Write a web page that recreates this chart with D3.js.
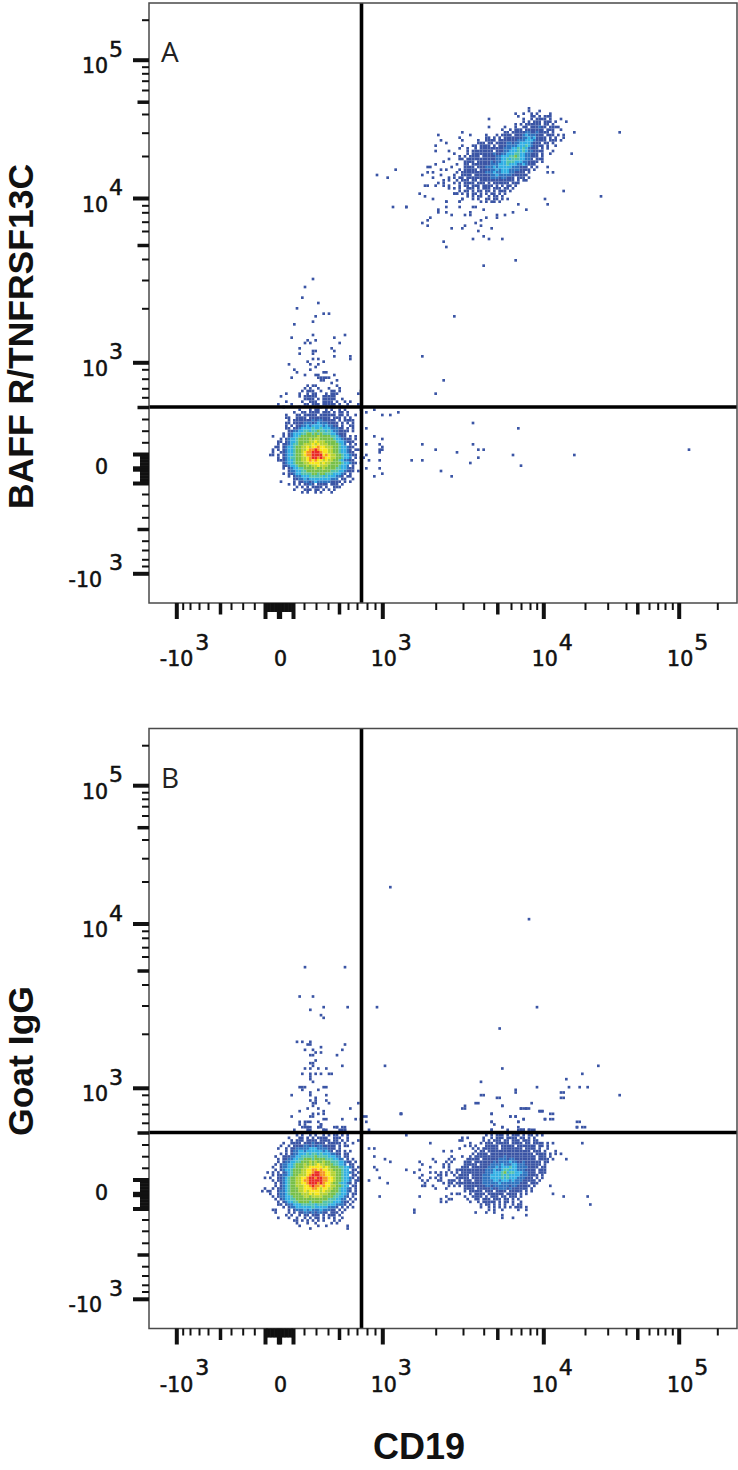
<!DOCTYPE html>
<html><head><meta charset="utf-8">
<script src="https://cdn.jsdelivr.net/npm/d3@7"></script>
<style>html,body{margin:0;padding:0;background:#fff}svg{display:block}</style>
</head><body>
<svg id="c" width="738" height="1470"></svg>
<script>
// ---- density cells: 1 blue ... 9 red, "." empty ----
const aNegativeRows = [
"................1...1.11..1.1..1.1.....1",
"..............1..11.1111.111.1.11.1.....",
"...........1...11.11111.111111.11.1..1..",
"...........11..1111.11111111.111.1.1....",
"............1.1111111212211111.1.1111...",
"...........11.11112221232221111.1.1.1...",
"...........1.1.1122323333232211.1..11...",
"...........11.1123333433433322211.1.1...",
"............11223344344544343221111.1...",
"..........1.1233344554545444332111......",
"......1...1.1233455555565555443211.1.1..",
".........1.1233455556566555554332111.1..",
"........11.12334555566766655554332111...",
"........1.112344556667676665555432.1.1..",
".......11.123345566767787766655433211...",
"......1.1.12334556678898777665543321.11.",
"......1..1123345567889998776655433211...",
".....11.1.1233455678899997876655433211..",
"........1.12344556678998987766554332.1.1",
"........11123345566787877676655432211...",
"..........1233455566777767665555433211.1",
"..........1123345556566766655554332.1...",
"..........1.1233445555655655554433211...",
"............1223344555555555444332111.1.",
"..........1.1123344445545544433321.1....",
"............1.1223334444434333221.11....",
"..............11223233333333222.11..1...",
".........1....1.1122123222221111.1.1....",
"............1.1.1.1121.1111.111.1.......",
"...............1.1.1.1111.1..111........",
"..............1...111.11.1.1.1..........",
".................1.1..1.1...1..........."
];
const aPositiveRows = [
"",
"",
"",
"................................................1",
"................................................1...1",
"...........................................1..1..1.1....1",
"............................................1....11.1.111",
".................................1............1..1.1111.1...1",
"..............................................1.1.111.111.1...1",
"...........................................1.1.111111.11.1",
".................................1.....1...1..11.111211.1111",
"......................................1..1.111.1111111.111..1",
".......................1...............11.11111221121111.1.......1................1",
"..............1...........1.....1...1.1111.11123222111.111.1.1",
"......................1.........11.1.1.1111111223231111.1.1..1",
"...............1.......1.....1..1111.111111122233321111.111.1",
".................1...........111.11.11112212233332111.11.1",
".............1.........1...11.1111.1.11122223334321111.1..1",
"......................1..1..1.1111111112223343432111.1.1",
".............1....1......1.11111111.111223334343221111...1",
"....................1....1.1111111121122333443322111.1..1.......1",
"......................1.1.1111.111112233344543322111.1",
"..................1...11.1111111111122334344433221.111",
"................1.......1111.11111212233444333221111.1",
".............1.......1..11.111111122233343332232111",
"..........11.......1....1111.1112223233333222111.1.1...1",
"...............1.1....1.11111.1111223233322221111.1",
"..........1.1........1.111111111222322333221111.1......1.1",
"........1......1....1..1111.11111122322222111111",
"............1.....1.1.11.111111111222122111.111.1",
"................1.1..1.111.11.1111111111111.1.11",
"..............1.1...1.1.1111.111.1.111111.111",
"..........1..1..1.1...1.11.111.1111.1.1.11.1",
"..................1.1.1..111.1.111.111.11.1",
"......................1.11.1.11.11.1.111.1",
"....................11.1.1.11.1.1.11.1.1",
".........................1.1.11..1.11.1",
".......................1...1.1..11.11.1.1",
".................1....1.......1.1.11.1"
];
const bNegativeRows = [
"",
"...............1.1.....1",
"..................11..1......1.11",
"...................1....1.....1.1",
"",
"..............1.1..1.1..1.1.11.1.1",
"...........1...11.1.1.1111..111..1",
"............1.111.1111.1111.11.1.1...1",
".........1..1111.11121111.11111.1..1",
"........1..1.1111221212211111.1.11",
".......1..1.11222223332222111.1",
"..........1.1223323333332321.11.1.1",
"........1.1.1223334344343332211.11",
"......1..1112233444445444433322.11",
".......1.11223344555455554443322.1.1",
".......1.12233445556565565544433211.1",
"......1.1223345556565676655544332.11",
".....1..1223345556677777676555443321.1",
"......1.12334555667788787766555433.11",
"...1.1.1.123455566778998877665543321.1",
".....1.112234556667899988776655433.11",
"..1.1..11234556677899899887765543321.1",
".....1.1123455667889999988776554332.11",
"......1.123455667789998987765543321.1",
"......1.12345566677898878776655433.11",
"..1..1.1123455566777887677665543321.1",
".1.11..1223455566767777676655543321.1",
"....1..122345555666767766655544332.11",
".....1.122334555566566665555443321.1",
"......1.1233445555555555554443322.1.1",
".......1.1233445555455554444333211.1",
".......11.12233344444344443332221.1",
".........1.1223333334333332221.1.1.1",
".....11....1.1222323222322211.1.1",
"......1....1.1.11221212211.111.1",
"..........1.1..1.11.111.1.111.1",
".......1...1..1..1.1.11.1.1.1..1",
".............11.1.1.1.1.1...1.1",
"..............1...1..1.....1.1",
"...............1......1..1.......1",
"...................1.............1"
];
const bPositiveRows = [
"","","","","","","","","","","","","","","","",
"................................1.1.111.1.111.1.11.1.1",
".......................1.1.....1..1.111.1111.11.1.1",
"......................11.......1.1.111.11.111.111.11",
"...........1..............1...1.111.11111.1111.11.1111.1.1..........1",
"........................1.1.1...11111.11111.1111111.11.1",
"......................1....1.1.111111.11111111.1111.1..1",
"................1..1........1.11.1111111111111111.111.1...1",
"...........................1.1111.1111111111111111.1111.1.1.1",
"...................1...1..1.11111111111211111111111.111.1",
"............1.....1.1....11111.11111122212211111111.1111.1....1",
".......1.....1...1.1....111.1111111212222322112111111.11",
"........1.......1.1.....11111.11112222322233222111111.1",
"...........1....1.1....111.1111112223233343322221111.11",
"..1....1..........1..111111111112223223443332221111.111",
".....1.....1.1.1.1.1.1.1111111112223334534433322111.111",
"........1.....11.1..1.1111.1111222333343433332221111.1",
".......1...1.1.1.....11111.11112223333434333222111.1.1",
"........1.1...11..111.1.111.11122223323332322211111.1",
".........1......1.11.111111111122222232222222111.111",
"........11..1.....1.1.1.1111111122122222212211111.1.....1",
".............1...1......1111.1111121122212111111.1",
"........................1.11111.111.1111.11111.1.1",
"...................1.11...1.1111.111111.1111.1.1.........1",
".......1.........1......1..1111.1.111.11.111.1...............1",
"...............1..11.....1..11.111.111.11.1.1",
"...............1.1........1..1.11111.1.11.1..1",
"..............................1.11.1.1.1..1.11",
"..............................1..1.1.1.1.1.111.1",
".................................1.1..1.....1..1",
".....1......................1...1..1",
"......................................1"
];
// loose single events as [column, row] inside the block named beside them
const aColumnEvents = [[14,3],[11,6],[10,10],[16,12],[8,14],[15,17],[18,16],[20,16],[14,19],[7,20],[14,24],[6,25],[26,24],[22,25],[12,26],[15,26],[13,27],[11,27],[24,27],[9,29],[21,29],[22,30],[15,30],[14,30],[9,31],[14,31],[22,32],[28,32],[28,33],[14,33],[16,33],[12,34],[18,34],[5,35],[13,35],[16,35],[15,36],[7,37],[13,37],[18,38],[19,38],[8,38],[6,40],[11,39],[15,39],[16,39],[22,39],[17,40],[18,40],[19,40],[20,40],[23,41],[18,41],[21,42],[16,40],[17,41],[12,43],[14,43],[15,43],[23,43],[11,44],[13,44],[16,44],[20,44],[24,44],[10,45],[12,45],[13,45],[14,45],[17,45],[21,45],[22,45],[24,45],[4,46],[9,46],[12,46],[14,46],[15,46],[19,46],[21,46],[22,46],[23,46],[31,46],[2,47],[9,47],[11,47],[12,47],[13,47],[14,47],[15,47],[18,47],[19,47],[20,47],[21,47],[22,47],[32,45],[11,48],[12,48],[13,48],[14,48],[16,48],[18,48],[19,48],[20,48],[21,48],[22,48],[25,48],[6,50],[10,49],[13,49],[14,49],[15,49],[18,49],[19,49],[20,49],[21,49],[23,49],[26,49],[28,49],[1,50],[4,49],[11,50],[12,50],[14,50],[15,50],[16,50],[18,50],[19,50],[20,50],[21,50],[22,50],[24,50],[27,50],[31,50],[3,51],[9,51],[13,51],[16,51],[17,51],[19,51],[21,51],[22,51],[25,51]];
const aRightEvents = [[37,6],[25,21],[33,30],[30,35],[16,42],[13,43],[10,43],[4,42],[7,41],[44,46],[61,48],[4,48],[7,51],[10,52],[9,54],[10,55],[9,56],[10,56],[9,57],[4,54],[4,58],[3,59],[5,60],[9,60],[4,63],[9,63],[10,65],[7,66],[25,54],[30,56],[38,57],[44,54],[46,56],[48,56],[59,58],[82,58],[125,56],[21,60],[25,60],[46,59],[43,61],[62,62],[32,64],[36,66]];
const aClusterEvents = [[9,32],[7,35],[9,36],[12,37],[20,35],[21,35],[23,37],[17,38],[22,38],[2,40],[17,40],[22,40],[14,41],[27,40],[28,40],[31,41],[14,42],[17,42],[19,43],[24,43],[26,42],[26,43],[36,43],[39,43],[32,44],[36,44],[11,44],[10,45],[8,46],[10,47],[30,45],[28,46],[24,47],[23,48],[19,48],[30,47],[34,48],[29,49],[31,51],[27,52],[33,52],[38,52],[16,53],[17,55],[43,60],[31,62],[61,34],[75,36],[54,37],[55,39],[47,41],[44,39],[42,42],[-9,28],[-5,29],[-2,26],[-3,40],[2,40]];
const bColumnEvents = [[13,4],[28,4],[11,15],[16,15],[20,19],[29,19],[15,20],[19,22],[20,23],[10,32],[12,32],[15,32],[15,33],[14,33],[28,33],[19,34],[13,35],[16,35],[27,35],[17,36],[19,36],[15,37],[16,37],[25,37],[17,39],[15,40],[16,40],[16,41],[27,41],[18,42],[21,42],[13,42],[15,42],[12,44],[15,44],[15,45],[17,44],[19,44],[22,44],[23,44],[15,46],[16,47],[11,49],[12,49],[13,49],[12,50],[20,49],[21,49],[18,50],[8,52],[15,51],[15,52],[21,52],[17,53],[15,54],[17,54],[21,54],[16,55],[17,55],[22,55],[33,55],[16,56],[14,57],[18,57],[20,58],[30,57],[11,58],[16,59],[18,59],[20,59],[8,60],[15,60],[16,60],[35,60],[20,61],[21,61],[13,62],[14,62],[15,62],[18,62],[11,62],[27,61],[32,61],[19,63],[12,64],[13,64],[14,64],[18,64],[19,64],[25,64],[24,64],[20,65],[28,65],[9,65],[14,65],[21,65],[27,65]];
const bRightEvents = [[11,6],[63,18],[6,51],[66,51],[52,59],[9,73],[53,74],[89,73],[83,76],[77,78],[45,79],[66,81],[78,81],[82,81],[85,81],[58,82],[46,84],[76,83],[76,85],[97,84],[52,85],[44,87],[64,87],[53,88],[39,88],[60,89],[62,89],[63,89],[67,90],[68,90],[49,91],[72,91],[15,91],[2,92],[56,92],[58,92],[61,93],[59,94],[69,93],[72,93],[49,94],[50,95],[82,94],[81,96],[84,96],[53,96],[59,96],[60,97],[49,97],[55,97],[61,97],[63,97],[65,97],[17,99]];
const bLooseEvents = [[82,157],[84,157],[84,160],[88,161],[90,162],[85,165],[84,164],[82,169],[86,168],[89,170],[86,175],[79,146],[81,147],[82,150],[94,144]];
const bClusterEvents = [[30,1],[36,2],[60,0],[60,2],[43,0],[28,4],[38,5],[23,6],[24,6],[46,6],[47,6],[45,6],[0,8],[52,7],[53,7],[34,8],[41,9],[43,9],[56,8],[34,11],[46,10],[54,10],[56,10],[44,11],[66,11],[66,13],[68,13],[38,13],[44,14],[45,14],[46,14],[48,14],[49,14],[34,14],[5,44],[71,42],[70,39],[38,47],[42,47],[47,46]];

// ---- axis values ----
const xBiexValues = [-1000,-900,-800,-700,-600,-500,-400,-300,-200,-100,0,100,200,300,400,500,600,700,800,900,1000,2000,3000,4000,5000,6000,7000,8000,9000,10000,20000,30000,40000,50000,60000,70000,80000,90000,100000,200000];
const xBiexPixels = [176.3,182.7,190,199,208,220,231,242.7,254.3,265,279,293,304,316,328,339,348,357,367,375,382.3,435.7,463,483.7,497.3,511,521,530,536.7,543.3,585,607.7,626,637.3,649,657.7,665,672.3,678.7,717.3];
const yBiexPixels = [573.3,566,559.3,550,540.7,529,517.3,505.3,494,483,468.5,454,442.3,430.7,419,407,397.3,388.3,378.7,369.3,362.3,308.3,280,259,245,231,221.7,212.3,205.3,198,156,132.7,114,101.7,90,80.7,73.3,66.7,59.7,19.7];
const majorTicks = [-1000,-100,100,1000,10000,100000];
const mediumTicks = [-500,500,5000,50000];
const minorTicks = [-900,-800,-700,-600,-400,-300,-200,200,300,400,600,700,800,900,2000,3000,4000,6000,7000,8000,9000,20000,30000,40000,60000,70000,80000,90000,200000];
const denseTicks = [-90,-80,-70,-60,-50,-40,-30,-20,20,30,40,50,60,70,80,90];
const centreTicks = [-10,0,10];
const tickLabels = [[-1000,"-10","3"],[0,"0",""],[1000,"10","3"],[10000,"10","4"],[100000,"10","5"]];
const gateValues = [745,500];
const panels = [
 {letter:"A",title:"BAFF R/TNFRSF13C",blocks:[[40,145,7,aNegativeRows],[94,36,0,aPositiveRows]],
  events:[[47,100,aColumnEvents],[77,111,aRightEvents],[94,36,aClusterEvents]]},
 {letter:"B",title:"Goat IgG",blocks:[[41,147,0,bNegativeRows],[94,136,0,bPositiveRows]],
  events:[[45,85,bColumnEvents],[79,53,bRightEvents],[0,0,bLooseEvents],[94,136,bClusterEvents]]}
];
const levelColours = ["none","#3b55a5","#2f74c0","#33b0e4","#52c2ad","#78c049","#b5d334","#f8e71c","#f79420","#ea2a26"];

// ---- drawing ----
const left=149,right=737,top0=3,bottom0=603,panelStep=725.5;
const cols=220.5,rowsN=225;
const svg=d3.select("#c");
const xBiex=d3.scaleLinear().domain(xBiexValues).range(xBiexPixels);
const yBiex=d3.scaleLinear().domain(xBiexValues).range(yBiexPixels);
const colScale=d3.scaleLinear().domain([0,cols]).range([left,right]);
const rowScale=d3.scaleLinear().domain([0,rowsN]).range([top0,bottom0]);
const cw=colScale(1)-colScale(0), rh=rowScale(1)-rowScale(0);
const labelFont="'DejaVu Sans',sans-serif";

panels.forEach((p,i)=>{
  const g=svg.append("g").attr("transform",`translate(0,${i*panelStep})`);
  const cells=[];
  p.blocks.forEach(([c0,r0,skip,rows])=>rows.forEach((s,r)=>{
    [...s].forEach((ch,c)=>{ if(ch!=="."&&ch!=="0") cells.push({c:c0+c,r:r0+skip+r,l:+ch}); });
  }));
  p.events.forEach(([c0,r0,list])=>list.forEach(([c,r])=>cells.push({c:c0+c,r:r0+r,l:1})));
  cells.sort((a,b)=>a.l-b.l);
  g.append("g").selectAll("rect").data(cells).join("rect")
    .attr("x",d=>colScale(d.c)).attr("y",d=>rowScale(d.r))
    .attr("width",cw).attr("height",rh)
    .attr("fill",d=>levelColours[d.l]);

  // gates
  g.append("line").attr("x1",xBiex(gateValues[0])).attr("x2",xBiex(gateValues[0])).attr("y1",top0).attr("y2",bottom0)
    .attr("stroke","#000").attr("stroke-width",3.6);
  g.append("line").attr("x1",left).attr("x2",right).attr("y1",yBiex(gateValues[1])).attr("y2",yBiex(gateValues[1]))
    .attr("stroke","#000").attr("stroke-width",3.6);
  // frame
  g.append("rect").attr("x",left).attr("y",top0).attr("width",right-left).attr("height",bottom0-top0)
    .attr("fill","none").attr("stroke","#4a4a4a").attr("stroke-width",1.5);

  // axes: one d3 axis per tick class
  const tickSets=[[minorTicks,7,2],[denseTicks,9,2],[mediumTicks,11.5,3.5],[centreTicks,16,2.5],[majorTicks,16,4]];
  tickSets.forEach(([vals,len,w])=>{
    const ax=g.append("g").attr("transform",`translate(0,${bottom0})`)
      .call(d3.axisBottom(xBiex).tickValues(vals).tickSize(len).tickFormat(""));
    ax.select(".domain").remove();
    ax.selectAll("line").attr("stroke","#111").attr("stroke-width",w);
    const ay=g.append("g").attr("transform",`translate(${left},0)`)
      .call(d3.axisLeft(yBiex).tickValues(vals).tickSize(len).tickFormat(""));
    ay.select(".domain").remove();
    ay.selectAll("line").attr("stroke","#111").attr("stroke-width",w);
  });

  // tick labels
  const text=(x,y,s,anchor,size)=>g.append("text").attr("x",x).attr("y",y).text(s)
     .attr("text-anchor",anchor).attr("font-family",labelFont)
     .attr("font-size",size).attr("fill","#111").attr("stroke","#111").attr("stroke-width",0.55);
  tickLabels.forEach(([v,base,sup])=>{
    const neg=v<0;
    const xp=xBiex(v);
    if(v===0){ text(xp+1.5,666,base,"middle",20.5); }
    else { text(xp+(neg?17:14.5),666,base,"end",20.5); text(xp+(neg?19:15.5),649.5,sup,"start",22); }
    const yp=yBiex(v);
    if(v===0){ text(108,474,base,"end",20.5); }
    else { text(neg?102:108,yp+13.5,base,"end",20.5); text(109,yp-3,sup,"start",22); }
  });

  // panel letter
  g.append("text").attr("x",161).attr("y",62).text(p.letter)
    .attr("font-family","'Open Sans',sans-serif").attr("font-weight",400).attr("font-size",28).attr("fill","#222");
  // y title
  const cy=i===0?336.5:1061-panelStep;
  g.append("text").attr("transform",`translate(33,${cy}) rotate(-90)`).attr("text-anchor","middle")
    .attr("font-family","'Liberation Sans',sans-serif").attr("font-weight",700).attr("font-size",35.5).attr("fill","#111").text(p.title);
});
svg.append("text").attr("x",419).attr("y",1459).attr("text-anchor","middle")
  .attr("font-family","'Liberation Sans',sans-serif").attr("font-weight",700).attr("font-size",36).attr("fill","#111").text("CD19");
</script>
</body></html>
